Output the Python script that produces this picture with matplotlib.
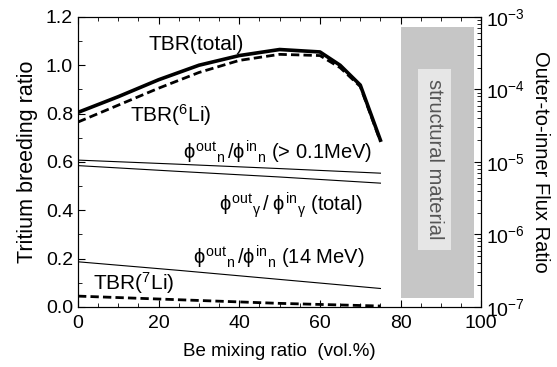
import numpy as np
import matplotlib.pyplot as plt
from matplotlib.patches import Rectangle
from matplotlib.ticker import MultipleLocator, LogLocator, NullFormatter

plt.rcParams['font.family'] = ['Liberation Sans', 'DejaVu Sans']
plt.rcParams['mathtext.fontset'] = 'custom'
plt.rcParams['mathtext.rm'] = 'Liberation Sans'
plt.rcParams['mathtext.it'] = 'Liberation Sans'

# TBR curves (left axis)
be = [0, 10, 20, 30, 40, 50, 60, 65, 70, 75]
tbr_total = [0.805, 0.87, 0.94, 1.00, 1.04, 1.065, 1.055, 1.0, 0.918, 0.69]
tbr_li6 = [0.765, 0.835, 0.905, 0.97, 1.02, 1.045, 1.04, 0.99, 0.912, 0.685]
be_li7 = [0, 25, 50, 75]
tbr_li7 = [0.045, 0.03, 0.015, 0.004]

# flux ratios (right axis, log)
be_flux = [0, 25, 50, 75]
flux_n01 = [1.06e-5, 9.3e-6, 8.1e-6, 7.0e-6]
flux_g = [8.9e-6, 7.4e-6, 6.2e-6, 5.1e-6]
flux_n14 = [4.2e-7, 3.2e-7, 2.4e-7, 1.8e-7]

fig = plt.figure(figsize=(5.57, 3.67), dpi=100)
ax = fig.add_axes([0.14, 0.1635, 0.724, 0.7905])
ax2 = ax.twinx()

ax.add_patch(Rectangle((80, 0.037), 18.2, 1.12, facecolor='#c6c6c6', edgecolor='none', zorder=0))
ax.add_patch(Rectangle((84.4, 0.236), 8.2, 0.75, facecolor='#e6e6e6', edgecolor='none', zorder=0))
ax.text(88.5, 0.61, 'structural material', rotation=-90, ha='center', va='center',
        fontsize=14.5, color='#555555')

ax.plot(be, tbr_total, color='black', lw=2.6)
ax.plot(be, tbr_li6, color='black', lw=2.0, ls=(0, (3, 1.5)))
ax.plot(be_li7, tbr_li7, color='black', lw=2.0, ls=(0, (3, 1.5)))

ax2.plot(be_flux, flux_n01, color='black', lw=0.8)
ax2.plot(be_flux, flux_g, color='black', lw=0.8)
ax2.plot(be_flux, flux_n14, color='black', lw=0.8)

fs = 15
ax.text(17.5, 1.085, 'TBR(total)', fontsize=fs, va='center')
ax.text(13, 0.795, 'TBR($^{6}$Li)', fontsize=fs, va='center')
ax.text(26, 0.64, r'$\phi^{\rm out}{}_{\rm n}\,/\phi^{\rm in}{}_{\rm n}$ (> 0.1MeV)', fontsize=14.5, va='center')
ax.text(35, 0.42, r'$\phi^{\rm out}{}_{\gamma}\,/\;\phi^{\rm in}{}_{\gamma}$ (total)', fontsize=14.5, va='center')
ax.text(28.5, 0.205, r'$\phi^{\rm out}{}_{\rm n}\,/\phi^{\rm in}{}_{\rm n}$ (14 MeV)', fontsize=14.5, va='center')
ax.text(3.7, 0.1, 'TBR($^{7}$Li)', fontsize=fs, va='center')

ax.set_xlim(0, 100)
ax.set_ylim(0, 1.2)
ax2.set_yscale('log')
ax2.set_ylim(1e-7, 1e-3)

ax.xaxis.set_major_locator(MultipleLocator(20))
ax.xaxis.set_minor_locator(MultipleLocator(5))
ax.yaxis.set_major_locator(MultipleLocator(0.2))
ax.yaxis.set_minor_locator(MultipleLocator(0.1))
ax.yaxis.set_major_formatter(plt.FormatStrFormatter('%.1f'))
ax2.yaxis.set_major_locator(LogLocator(base=10, numticks=10))
ax2.yaxis.set_minor_locator(LogLocator(base=10, subs=np.arange(2, 10), numticks=20))
ax2.yaxis.set_minor_formatter(NullFormatter())

ax.tick_params(which='both', direction='in', top=True, labelsize=14)
ax.tick_params(which='major', length=5)
ax.tick_params(which='minor', length=3)
ax.tick_params(axis='x', pad=6)
ax2.tick_params(which='both', direction='in', labelsize=14)
ax2.tick_params(which='major', length=5)
ax2.tick_params(which='minor', length=3)

ax.set_xlabel('Be mixing ratio  (vol.%)', fontsize=13.5, labelpad=8)
ax.set_ylabel('Tritium breeding ratio', fontsize=15.5, labelpad=6)
ax2.set_ylabel('Outer-to-inner Flux Ratio', fontsize=14.5, rotation=270, labelpad=18)

fig.savefig('out.png', dpi=100)
